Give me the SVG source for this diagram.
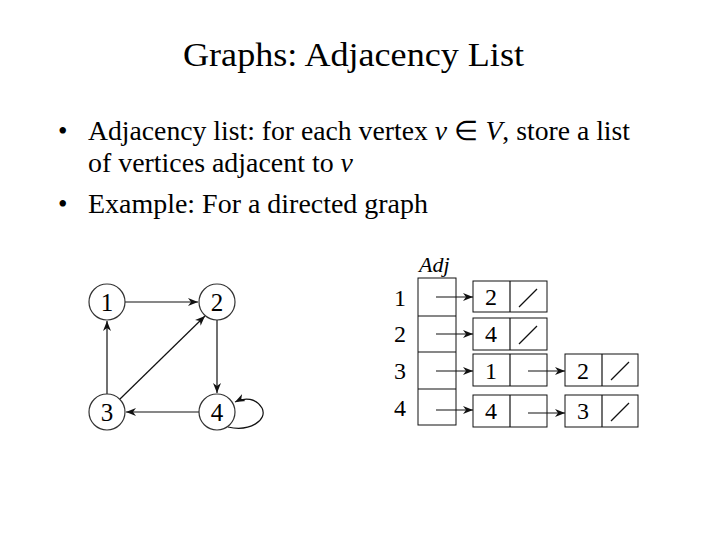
<svg xmlns="http://www.w3.org/2000/svg" width="720" height="540" viewBox="0 0 720 540">
<style>
.t{font-family:"Liberation Serif","Times New Roman",serif;fill:#000}
.n{fill:#fff;stroke:#333;stroke-width:1.2}
.e{stroke:#111;stroke-width:1.2;fill:none;marker-end:url(#a)}
.b{fill:#fff;stroke:#111;stroke-width:1}
.s{stroke:#111;stroke-width:1.2}
</style>
<defs><marker id="a" viewBox="0 0 10 10" refX="10" refY="5" markerWidth="10" markerHeight="10" markerUnits="userSpaceOnUse" orient="auto"><path d="M0,1 L10,5 L0,9 L3,5z" fill="#111"/></marker></defs>
<rect width="720" height="540" fill="#fff"/>
<text class="t" x="183" y="66" font-size="34" textLength="341" lengthAdjust="spacingAndGlyphs">Graphs: Adjacency List</text>
<text class="t" x="58" y="140" font-size="27">•</text>
<text class="t" x="88" y="140" font-size="27" textLength="542" lengthAdjust="spacingAndGlyphs">Adjacency list: for each vertex <tspan font-style="italic">v</tspan> ∈ <tspan font-style="italic">V</tspan>, store a list</text>
<text class="t" x="88" y="172" font-size="27" textLength="265" lengthAdjust="spacingAndGlyphs">of vertices adjacent to <tspan font-style="italic">v</tspan></text>
<text class="t" x="58" y="213" font-size="27">•</text>
<text class="t" x="88" y="213" font-size="27" textLength="340" lengthAdjust="spacingAndGlyphs">Example: For a directed graph</text>
<g id="edges">
<line class="e" x1="125" y1="302" x2="198" y2="302"/>
<line class="e" x1="217" y1="320" x2="217" y2="393"/>
<line class="e" x1="199" y1="412" x2="126" y2="412"/>
<line class="e" x1="107" y1="394" x2="107" y2="321"/>
<line class="e" x1="120" y1="399" x2="205" y2="316"/>
<path class="e" d="M228,427 C250,432 268,420 262,408 C256,398 245,397 235,402"/>
</g>
<g id="n1"><circle class="n" cx="107" cy="302" r="18"/><text class="t" x="107" y="311" font-size="25" text-anchor="middle">1</text></g>
<g id="n2"><circle class="n" cx="217" cy="302" r="18"/><text class="t" x="217" y="311" font-size="25" text-anchor="middle">2</text></g>
<g id="n3"><circle class="n" cx="107" cy="412" r="18"/><text class="t" x="107" y="421" font-size="25" text-anchor="middle">3</text></g>
<g id="n4"><circle class="n" cx="217" cy="412" r="18"/><text class="t" x="217" y="421" font-size="25" text-anchor="middle">4</text></g>
<g id="adj">
<text class="t" x="419" y="272" font-size="22" font-style="italic">Adj</text>
<rect class="b" x="418" y="278" width="38" height="147"/>
<line class="s" x1="418" y1="316" x2="456" y2="316"/>
<line class="s" x1="418" y1="352" x2="456" y2="352"/>
<line class="s" x1="418" y1="389" x2="456" y2="389"/>
<g class="t" font-size="24" text-anchor="middle">
<text x="400" y="306">1</text><text x="400" y="342">2</text><text x="400" y="379">3</text><text x="400" y="416">4</text>
</g>
</g>
<g id="list">
<rect class="b" x="473" y="281" width="74" height="31"/><line class="s" x1="510" y1="281" x2="510" y2="312"/><line class="s" x1="519" y1="307" x2="537" y2="289"/>
<rect class="b" x="473" y="318" width="74" height="32"/><line class="s" x1="510" y1="318" x2="510" y2="350"/><line class="s" x1="519" y1="344" x2="537" y2="326"/>
<rect class="b" x="473" y="354" width="74" height="32"/><line class="s" x1="510" y1="354" x2="510" y2="386"/>
<rect class="b" x="473" y="395" width="74" height="32"/><line class="s" x1="510" y1="395" x2="510" y2="427"/>
<rect class="b" x="565" y="354" width="73" height="32"/><line class="s" x1="602" y1="354" x2="602" y2="386"/><line class="s" x1="611" y1="380" x2="629" y2="362"/>
<rect class="b" x="565" y="395" width="73" height="32"/><line class="s" x1="602" y1="395" x2="602" y2="427"/><line class="s" x1="611" y1="421" x2="629" y2="403"/>
<g class="t" font-size="24" text-anchor="middle">
<text x="491" y="305">2</text><text x="491" y="342">4</text><text x="491" y="379">1</text><text x="491" y="419">4</text>
<text x="583" y="379">2</text><text x="583" y="419">3</text>
</g>
</g>
<g id="ptrs">
<line class="e" x1="436" y1="297" x2="473" y2="297"/>
<line class="e" x1="436" y1="334" x2="473" y2="334"/>
<line class="e" x1="436" y1="371" x2="473" y2="371"/>
<line class="e" x1="436" y1="410" x2="473" y2="410"/>
<line class="e" x1="528" y1="371" x2="565" y2="371"/>
<line class="e" x1="528" y1="413" x2="565" y2="413"/>
</g>
</svg>
